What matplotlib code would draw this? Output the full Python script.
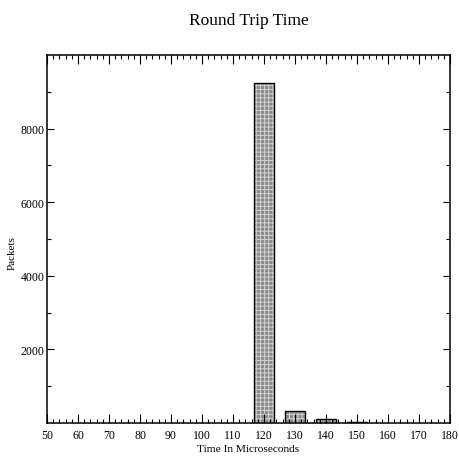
import matplotlib
matplotlib.use("Agg")
import matplotlib.pyplot as plt
import numpy as np

plt.rcParams['font.family'] = ['Liberation Serif', 'DejaVu Serif']
plt.rcParams['hatch.linewidth'] = 0.7

centers = [120, 130, 140, 150]
packets = [9250, 320, 100, 40]
bar_width = 6.2

x_ticks = list(range(50, 181, 10))
y_ticks = [2000, 4000, 6000, 8000]

fig = plt.figure(figsize=(4.59, 4.64), dpi=100)
ax = fig.add_axes([0.1024, 0.0862, 0.8780, 0.7930])

# pattern fill
ax.bar(centers, packets, width=bar_width, facecolor='#8c8c8c', edgecolor='#d2d2d2',
       linewidth=0, hatch='++++')
# outline
ax.bar(centers, packets, width=bar_width, facecolor='none', edgecolor='black',
       linewidth=1.0)

ax.set_xlim(50, 180)
ax.set_ylim(0, 10000)
ax.set_xticks(x_ticks)
ax.set_xticks(np.arange(50, 181, 2), minor=True)
ax.set_yticks(y_ticks)
ax.set_yticks(np.arange(1000, 10000, 1000), minor=True)
ax.tick_params(axis='x', which='major', direction='in', length=6.5, width=0.8,
               top=True, labelsize=8.5, pad=4)
ax.tick_params(axis='x', which='minor', direction='in', length=3.2, width=0.8, top=True)
ax.tick_params(axis='y', which='major', direction='in', length=5, width=0.8,
               right=True, labelsize=8.5, pad=2)
ax.tick_params(axis='y', which='minor', direction='in', length=2.8, width=0.8, right=True)
for s in ax.spines.values():
    s.set_linewidth(1.1)

ax.set_xlabel('Time In Microseconds', fontsize=8.2, labelpad=1)
ax.set_ylabel('Packets', fontsize=8)
ax.yaxis.set_label_coords(-0.075, 0.465)
ax.xaxis.set_label_coords(0.5, -0.058)
fig.text(0.542, 0.955, 'Round Trip Time', ha='center', va='center', fontsize=12.5)

fig.savefig('out.png', dpi=100)
